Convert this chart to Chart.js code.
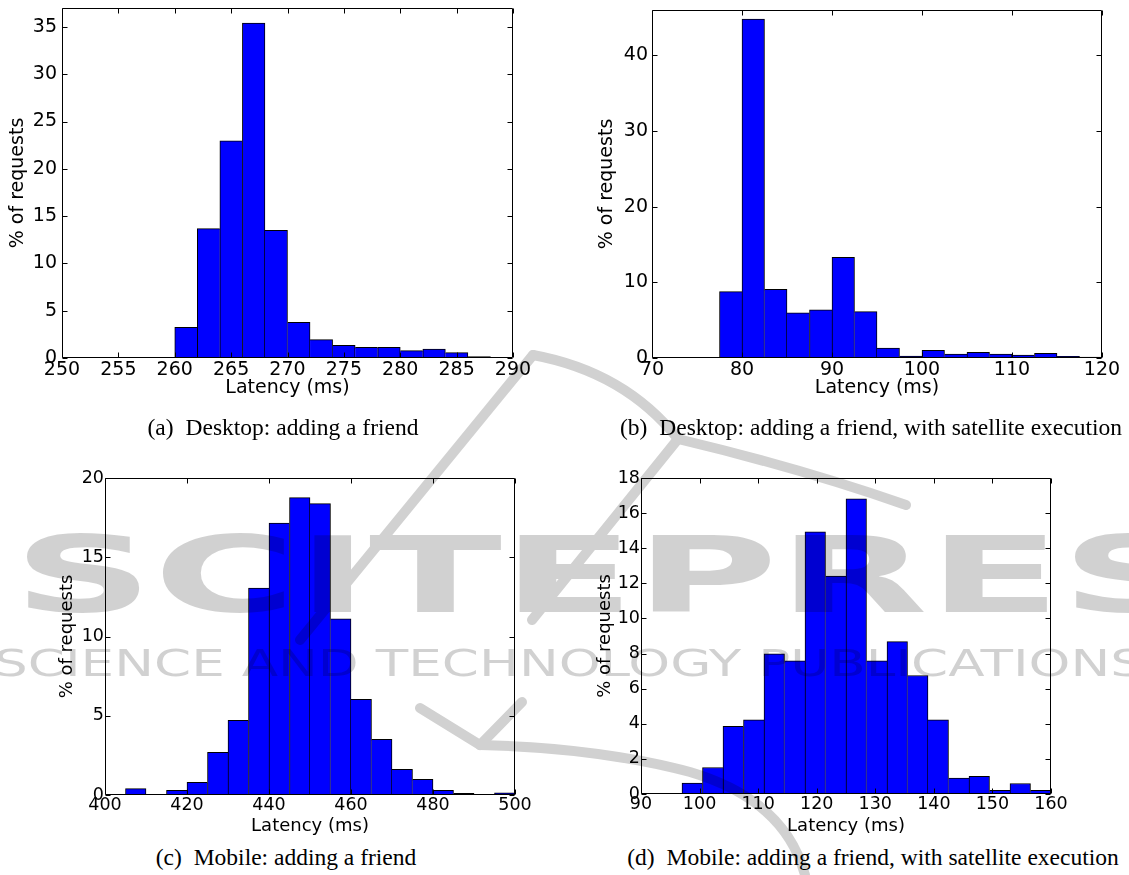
<!DOCTYPE html>
<html>
<head>
<meta charset="utf-8">
<script src="https://cdn.jsdelivr.net/npm/chart.js@4.4.1/dist/chart.umd.min.js"></script>
<style>
  html, body { margin: 0; padding: 0; background: #fff; }
  #fig { position: relative; width: 1129px; height: 875px; overflow: hidden; background: #fff; }
  #fig canvas { position: absolute; }
  .cap { position: absolute; font-family: "Liberation Serif", "Times New Roman", serif; font-size: 23.5px; color: #000;
         white-space: nowrap; transform: translate(-50%, -50%); }
  .cap b { font-weight: normal; margin-right: 6px; }
  #marca { position: absolute; left: 0; top: 0; pointer-events: none; }
</style>
</head>
<body>
<div id="fig">
  <canvas id="ch-a" width="545" height="400" style="left:0;top:0"></canvas>
  <canvas id="ch-b" width="569" height="400" style="left:560px;top:0"></canvas>
  <canvas id="ch-c" width="520" height="400" style="left:30px;top:440px"></canvas>
  <canvas id="ch-d" width="559" height="400" style="left:570px;top:440px"></canvas>

  <div class="cap" style="left:283px;top:427px"><b>(a)</b> Desktop: adding a friend</div>
  <div class="cap" style="left:871px;top:427px"><b>(b)</b> Desktop: adding a friend, with satellite execution</div>
  <div class="cap" style="left:286px;top:857px"><b>(c)</b> Mobile: adding a friend</div>
  <div class="cap" style="left:873px;top:857px"><b>(d)</b> Mobile: adding a friend, with satellite execution</div>

  <svg id="marca" width="1129" height="875">
    <g opacity="0.18" fill="#000" stroke="#000" stroke-linecap="round" stroke-linejoin="round">
      <g fill="none" stroke-width="10">
        <path d="M 533 355 L 300 640"/>
        <path d="M 533 355 Q 625 372 678 439 Q 800 468 906 505"/>
        <path d="M 678 439 L 532 620"/>
        <path d="M 420 708 L 480 745 L 522 702"/>
        <path d="M 480 745 Q 600 748 690 772 Q 785 800 805 875"/>
      </g>
      <text x="13" y="612" stroke="none" font-family="DejaVu Sans" font-weight="bold" font-size="106"
            textLength="1320" lengthAdjust="spacingAndGlyphs">SCITEPRESS</text>
      <text x="-6" y="676" stroke="none" font-family="DejaVu Sans" font-size="38"
            textLength="1150" lengthAdjust="spacingAndGlyphs">SCIENCE AND TECHNOLOGY PUBLICATIONS</text>
    </g>
  </svg>
</div>

<script>
// (a) Desktop: adding a friend  -- bins de 2 ms
const A_BINS = [260, 262, 264, 266, 268, 270, 272, 274, 276, 278, 280, 282, 284, 286];
const A_PCT  = [3.25, 13.67, 22.96, 35.4, 13.49, 3.78, 1.94, 1.34, 1.13, 1.13, 0.78, 0.95, 0.57, 0.14];
const A_XTICKS = [250, 255, 260, 265, 270, 275, 280, 285, 290];
const A_YTICKS = [0, 5, 10, 15, 20, 25, 30, 35];

// (b) Desktop, satellite -- bins de 2.5 ms
const B_BINS = [77.5, 80, 82.5, 85, 87.5, 90, 92.5, 95, 97.5, 100, 102.5, 105, 107.5, 110, 112.5, 115, 117.5];
const B_PCT  = [8.77, 44.8, 9.08, 5.96, 6.36, 13.3, 6.14, 1.32, 0.26, 1.0, 0.53, 0.75, 0.53, 0.4, 0.61, 0.22, 0.13];
const B_XTICKS = [70, 80, 90, 100, 110, 120];
const B_YTICKS = [0, 10, 20, 30, 40];

// (c) Mobile -- bins de 5 ms
const C_BINS = [405, 410, 415, 420, 425, 430, 435, 440, 445, 450, 455, 460, 465, 470, 475, 480, 485, 490, 495];
const C_PCT  = [0.4, 0, 0.29, 0.8, 2.69, 4.71, 13.05, 17.16, 18.76, 18.38, 11.11, 6.03, 3.51, 1.62, 0.99, 0.29, 0.1, 0, 0.13];
const C_XTICKS = [400, 420, 440, 460, 480, 500];
const C_YTICKS = [0, 5, 10, 15, 20];

// (d) Mobile, satellite -- bins de 3.5 ms
const D_BINS = [97, 100.5, 104, 107.5, 111, 114.5, 118, 121.5, 125, 128.5, 132, 135.5, 139, 142.5, 146, 149.5, 153, 156.5];
const D_PCT  = [0.62, 1.51, 3.86, 4.23, 7.98, 7.58, 14.93, 12.42, 16.82, 7.58, 8.68, 6.75, 4.23, 0.91, 1.0, 0.21, 0.6, 0.21];
const D_XTICKS = [90, 100, 110, 120, 130, 140, 150, 160];
const D_YTICKS = [0, 2, 4, 6, 8, 10, 12, 14, 16, 18];

Chart.defaults.color = '#000';
Chart.defaults.font.family = '"DejaVu Sans", sans-serif';

// moldura estilo matplotlib: caixa + ticks para dentro nos quatro lados
const molduraMpl = {
  id: 'molduraMpl',
  afterDatasetsDraw(chart) {
    const { ctx, chartArea: a, scales: { x, y } } = chart;
    const L = Math.round(a.left) + 0.5, R = Math.round(a.right) - 0.5;
    const T = Math.round(a.top) + 0.5, B = Math.round(a.bottom) - 0.5;
    ctx.save();
    ctx.strokeStyle = '#000';
    ctx.lineWidth = 1;
    ctx.beginPath();
    ctx.rect(L, T, R - L, B - T);
    x.ticks.forEach(t => {
      const px = Math.round(x.getPixelForValue(t.value)) + 0.5;
      ctx.moveTo(px, B); ctx.lineTo(px, B - 5);
      ctx.moveTo(px, T); ctx.lineTo(px, T + 5);
    });
    y.ticks.forEach(t => {
      const py = Math.round(y.getPixelForValue(t.value)) + 0.5;
      ctx.moveTo(L, py); ctx.lineTo(L + 5, py);
      ctx.moveTo(R, py); ctx.lineTo(R - 5, py);
    });
    ctx.stroke();
    ctx.restore();
  }
};

// contorno de cada barra sem linha dupla entre vizinhas
function bordas(vals) {
  return ctx => {
    const i = ctx.dataIndex, v = vals[i];
    const ant = vals[i - 1], prox = vals[i + 1];
    return {
      top: 1, bottom: 0,
      left: (ant === undefined || ant <= v) ? 1 : 0,
      right: (prox === undefined || prox < v) ? 1 : 0
    };
  };
}

function histograma(id, p) {
  const w = p.bins[1] - p.bins[0];
  const dados = p.bins.map((b, i) => ({ x: b + w / 2, y: p.vals[i] }));
  const fixa = (lista) => (s) => { s.ticks = lista.map(v => ({ value: v })); };

  new Chart(document.getElementById(id), {
    type: 'bar',
    data: {
      datasets: [{
        data: dados,
        backgroundColor: '#0000ff',
        borderColor: '#000',
        borderWidth: bordas(p.vals),
        barPercentage: 1,
        categoryPercentage: 1
      }]
    },
    options: {
      responsive: false,
      animation: false,
      events: [],
      layout: { padding: p.pad },
      plugins: { legend: { display: false }, tooltip: { enabled: false } },
      scales: {
        x: {
          type: 'linear', offset: false, min: p.xMin, max: p.xMax,
          grid: { display: false, drawTicks: false }, border: { display: false },
          ticks: { autoSkip: false, maxRotation: 0, padding: p.xPad, font: { size: p.tickSize } },
          afterBuildTicks: fixa(p.xTicks),
          afterFit: s => { s.height = p.xH; s.paddingLeft = 0; s.paddingRight = 0; },
          title: { display: true, text: 'Latency (ms)', font: { size: p.titleSize }, padding: { top: 0, bottom: p.xTitlePad } }
        },
        y: {
          type: 'linear', min: 0, max: p.yMax,
          grid: { display: false, drawTicks: false }, border: { display: false },
          ticks: { padding: p.yPad, font: { size: p.tickSize } },
          afterBuildTicks: fixa(p.yTicks),
          afterFit: s => { s.width = p.yW; s.paddingTop = 0; s.paddingBottom = 0; },
          title: { display: true, text: '% of requests', font: { size: p.titleSize }, padding: { top: p.yTitlePad, bottom: 0 } }
        }
      }
    },
    plugins: [molduraMpl]
  });
}

histograma('ch-a', {
  bins: A_BINS, vals: A_PCT, xTicks: A_XTICKS, yTicks: A_YTICKS, xMin: 250, xMax: 290, yMax: 37,
  pad: { left: 0, top: 8, right: 32, bottom: 0 }, yW: 62, xH: 42,
  tickSize: 19, titleSize: 19, xPad: 1, yPad: 5, xTitlePad: 0.6, yTitlePad: 6.6
});
histograma('ch-b', {
  bins: B_BINS, vals: B_PCT, xTicks: B_XTICKS, yTicks: B_YTICKS, xMin: 70, xMax: 120, yMax: 46,
  pad: { left: 0, top: 10, right: 27, bottom: 0 }, yW: 92, xH: 42,
  tickSize: 19, titleSize: 19, xPad: 1, yPad: 4, xTitlePad: 0.6, yTitlePad: 35.6
});
histograma('ch-c', {
  bins: C_BINS, vals: C_PCT, xTicks: C_XTICKS, yTicks: C_YTICKS, xMin: 400, xMax: 500, yMax: 20,
  pad: { left: 0, top: 38, right: 35, bottom: 0 }, yW: 75, xH: 45,
  tickSize: 17.5, titleSize: 18, xPad: 0, yPad: 1, xTitlePad: 3.2, yTitlePad: 26.2
});
histograma('ch-d', {
  bins: D_BINS, vals: D_PCT, xTicks: D_XTICKS, yTicks: D_YTICKS, xMin: 90, xMax: 160, yMax: 18,
  pad: { left: 0, top: 38, right: 78, bottom: 0 }, yW: 71, xH: 46,
  tickSize: 17.5, titleSize: 18, xPad: 0, yPad: 1, xTitlePad: 3.2, yTitlePad: 24.2
});
</script>
</body>
</html>
